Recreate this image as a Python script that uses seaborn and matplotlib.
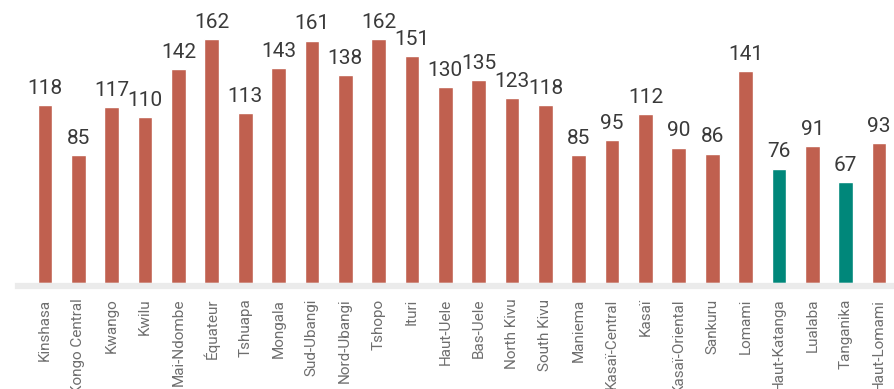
import matplotlib
matplotlib.use("Agg")
import matplotlib.pyplot as plt
import seaborn as sns
import pandas as pd

provinces = [
    "Kinshasa", "Kongo Central", "Kwango", "Kwilu", "Mai-Ndombe", "Équateur",
    "Tshuapa", "Mongala", "Sud-Ubangi", "Nord-Ubangi", "Tshopo", "Ituri",
    "Haut-Uele", "Bas-Uele", "North Kivu", "South Kivu", "Maniema",
    "Kasaï-Central", "Kasaï", "Kasaï-Oriental", "Sankuru", "Lomami",
    "Haut-Katanga", "Lualaba", "Tanganika", "Haut-Lomami",
]
values = [118, 85, 117, 110, 142, 162, 113, 143, 161, 138, 162, 151, 130,
          135, 123, 118, 85, 95, 112, 90, 86, 141, 76, 91, 67, 93]
highlighted = ["Haut-Katanga", "Tanganika"]

df = pd.DataFrame({"province": provinces, "value": values})
df["group"] = ["highlight" if p in highlighted else "base" for p in provinces]

sns.set_theme(style="white")
plt.rcParams["font.family"] = ["Roboto", "DejaVu Sans"]

fig = plt.figure(figsize=(8.95, 3.89), dpi=100)
ax = fig.add_axes([18 / 895, (389 - 283) / 389, 1 - 18 / 895, 271 / 389])

sns.barplot(
    data=df, x="province", y="value", hue="group",
    palette={"base": "#C0604F", "highlight": "#00877A"},
    dodge=False, width=0.44, legend=False, ax=ax, saturation=1,
)

for i, v in enumerate(values):
    ax.annotate(f"{v}", (i, v), xytext=(0, 8), textcoords="offset points",
                ha="center", va="baseline", fontsize=15, color="#3A3A3A")

ax.set_xlim(-0.81, 25.48)
ax.set_ylim(0, 180)
ax.set_xlabel("")
ax.set_ylabel("")
ax.set_yticks([])
for side in ["top", "right", "left"]:
    ax.spines[side].set_visible(False)
ax.spines["bottom"].set_color("#EBEBEB")
ax.spines["bottom"].set_linewidth(4.5)
ax.spines["bottom"].set_position(("outward", 2.3))
ax.tick_params(axis="x", length=0, pad=9)
plt.setp(ax.get_xticklabels(), rotation=90, fontsize=11,
         color="#6E6E6E", va="top", ha="center",
         family=["Liberation Sans Narrow", "Roboto", "DejaVu Sans"])

fig.savefig("out.png", dpi=100)
